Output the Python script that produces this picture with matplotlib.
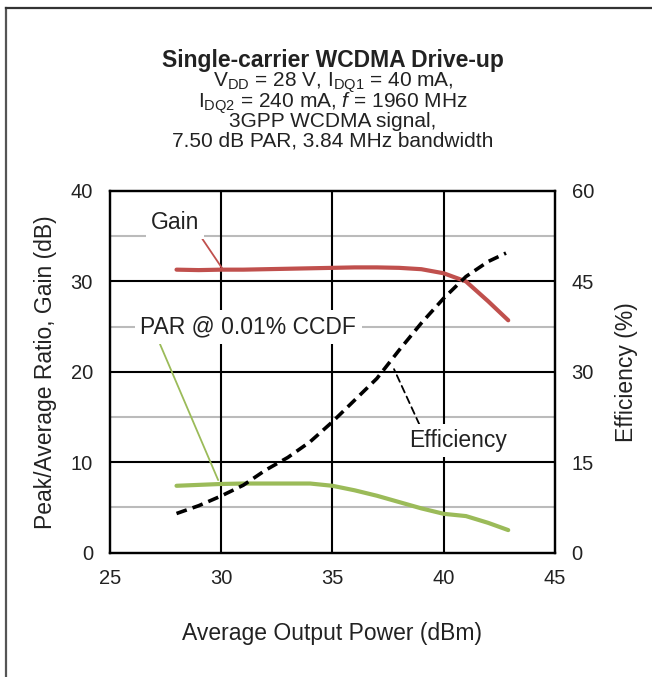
import matplotlib
matplotlib.use("Agg")
import matplotlib.pyplot as plt
from matplotlib.lines import Line2D

plt.rcParams['font.family'] = ['Liberation Sans', 'DejaVu Sans']
plt.rcParams['mathtext.fontset'] = 'custom'
plt.rcParams['mathtext.rm'] = 'Liberation Sans'
plt.rcParams['mathtext.it'] = 'Liberation Sans:italic'

# Data
pout = [28, 29, 30, 31, 32, 33, 34, 35, 36, 37, 38, 39, 40, 41, 42, 42.9]
gain = [31.3, 31.25, 31.3, 31.3, 31.35, 31.4, 31.45, 31.5, 31.55, 31.55, 31.5, 31.35, 30.9, 30.0, 27.8, 25.7]
par = [7.4, 7.5, 7.6, 7.65, 7.65, 7.65, 7.65, 7.4, 6.9, 6.3, 5.6, 4.9, 4.3, 4.05, 3.3, 2.5]
eff_pout = [28, 29, 30, 31, 32, 33, 34, 35, 36, 37, 38, 39, 40, 41, 42, 42.8]
eff = [6.5, 7.8, 9.4, 11.2, 13.7, 15.8, 18.4, 21.7, 25.3, 28.9, 33.6, 38.1, 42.2, 45.8, 48.3, 49.7]

x_ticks = [25, 30, 35, 40, 45]
left_ticks = [0, 10, 20, 30, 40]
right_ticks = [0, 15, 30, 45, 60]

TXT = '#222222'
fig = plt.figure(figsize=(6.52, 6.77), dpi=100)
ax = fig.add_axes([0.1683, 0.1836, 0.6829, 0.5343])
ax2 = ax.twinx()

ax.set_xlim(25, 45)
ax.set_ylim(0, 40)
ax2.set_ylim(0, 60)

# grid
for y in [5, 15, 25, 35]:
    ax.axhline(y, color='#bbbbbb', lw=1.5, zorder=0.5)
for y in [10, 20, 30]:
    ax.axhline(y, color='black', lw=1.5, zorder=0.6)
for x in [30, 35, 40]:
    ax.axvline(x, color='black', lw=1.5, zorder=0.6)

ax.plot(pout, gain, color='#c0504d', lw=3, solid_capstyle='round', zorder=3)
ax.plot(pout, par, color='#9bbb59', lw=3, solid_capstyle='round', zorder=3)
ax2.plot(eff_pout, eff, color='black', lw=2.6, ls=(0, (3, 1.7)), zorder=3)

ax.set_xticks(x_ticks)
ax.set_yticks(left_ticks)
ax2.set_yticks(right_ticks)
ax.tick_params(axis='both', length=0, labelsize=14.5, pad=12, colors=TXT)
ax2.tick_params(axis='y', length=0, labelsize=14.5, pad=12, colors=TXT)
for a in (ax, ax2):
    for s in a.spines.values():
        s.set_linewidth(1.6)
        s.set_color('black')

ax.set_xlabel('Average Output Power (dBm)', fontsize=16.5, labelpad=24, color=TXT)
ax.set_ylabel('Peak/Average Ratio, Gain (dB)', fontsize=16.5, labelpad=10, color=TXT)
ax2.set_ylabel('Efficiency (%)', fontsize=16.5, labelpad=15, color=TXT)

bb = dict(boxstyle='square,pad=0.2', fc='white', ec='none')
ax.annotate('Gain', xy=(30.05, 31.45), xytext=(27.93, 36.5), fontsize=16.5, color=TXT,
            ha='center', va='center', bbox=bb,
            arrowprops=dict(arrowstyle='-', color='#c0504d', lw=1.3, shrinkA=0, shrinkB=0,
                            relpos=(1.0, 0.0)), zorder=2)
ax.annotate('PAR @ 0.01% CCDF', xy=(29.87, 8.03), xytext=(31.22, 24.97), fontsize=16.5, color=TXT,
            ha='center', va='center', bbox=dict(boxstyle='square,pad=0.25', fc='white', ec='none'),
            arrowprops=dict(arrowstyle='-', color='#9bbb59', lw=1.3, shrinkA=0, shrinkB=0,
                            relpos=(0.08, 0.0)), zorder=2)
ax2.annotate('Efficiency', xy=(37.77, 30.45), xytext=(40.63, 18.6), fontsize=16.5, color=TXT,
             ha='center', va='center', bbox=bb,
             arrowprops=dict(arrowstyle='-', color='black', lw=1.3, ls=(0, (4, 2.5)), shrinkA=0, shrinkB=0,
                             relpos=(0.13, 1.0)), zorder=2)

# titles
cx = 333 / 652
fig.text(cx, 1 - 66.5 / 677, 'Single-carrier WCDMA Drive-up', fontsize=16.5, fontweight='bold',
         ha='center', va='baseline', color=TXT)
subtitle_a = '\n'.join([r'V$_{\mathrm{DD}}$ = 28 V, I$_{\mathrm{DQ1}}$ = 40 mA,',
                        r'I$_{\mathrm{DQ2}}$ = 240 mA, $\mathit{f}$ = 1960 MHz',
                        '3GPP WCDMA signal,'])
fig.text(cx, 1 - 127.3 / 677, subtitle_a, fontsize=15, ha='center', va='baseline',
         multialignment='center', linespacing=0.75, color=TXT)
fig.text(cx, 1 - 146.9 / 677, '7.50 dB PAR, 3.84 MHz bandwidth', fontsize=15, ha='center',
         va='baseline', color=TXT)

# border
fig.add_artist(Line2D([5.5 / 652, 5.5 / 652], [0, 1 - 8 / 677], transform=fig.transFigure,
                      color='#555555', lw=1.6))
fig.add_artist(Line2D([5.5 / 652, 1], [1 - 8 / 677, 1 - 8 / 677], transform=fig.transFigure,
                      color='#333333', lw=1.6))

fig.savefig('out.png', dpi=100)
